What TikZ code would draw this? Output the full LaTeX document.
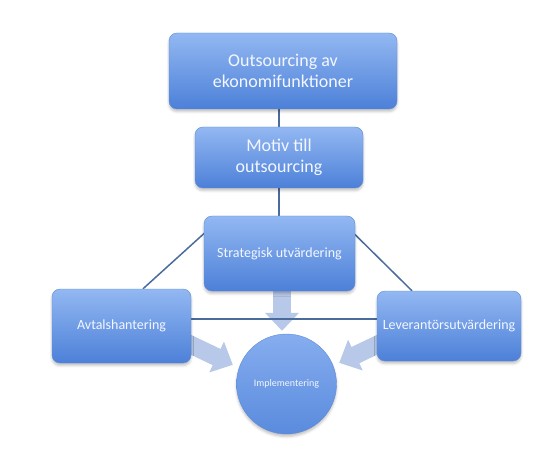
\documentclass[tikz,border=0pt]{standalone}
\usepackage{fontspec}
\setmainfont{Carlito}
\usetikzlibrary{shadows.blur,arrows.meta,backgrounds}
\definecolor{boxtop}{HTML}{93B8F2}
\definecolor{boxbot}{HTML}{4C80D8}
\definecolor{boxedge}{HTML}{5C8CD8}
\definecolor{circtop}{HTML}{86ADEF}
\definecolor{circbot}{HTML}{5A8BDD}
\definecolor{boxtext}{HTML}{F4F7FF}
\definecolor{connc}{HTML}{4A6C9C}
\definecolor{arrc}{HTML}{B7C8E8}
\begin{document}
\begin{tikzpicture}[x=1pt,y=-1pt,
  boxnode/.style={rectangle, rounded corners=8pt, top color=boxtop, bottom color=boxbot,
    draw=boxedge, line width=0.4pt, text=boxtext, align=center, inner sep=0pt,
    blur shadow={shadow xshift=0pt, shadow yshift=-2.5pt, shadow blur radius=2.5pt, shadow opacity=25}},
  circnode/.style={circle, top color=circtop, bottom color=circbot, draw=boxedge,
    line width=0.4pt, text=boxtext, inner sep=0pt, minimum size=100pt,
    blur shadow={shadow xshift=0pt, shadow yshift=-2.5pt, shadow blur radius=2.5pt, shadow opacity=25}},
  conn/.style={draw=connc, line width=1.5pt},
  blockarr/.style={draw=arrc, line width=18pt, -{Triangle[length=18pt,width=33pt]}}
]
\useasboundingbox (0,0) rectangle (546,457);
\node[boxnode, minimum width=228pt, minimum height=76pt, font=\fontsize{18}{21}\selectfont] (top) at (283,71) {Outsourcing av\\ekonomifunktioner};
\node[boxnode, minimum width=168pt, minimum height=61pt, font=\fontsize{18}{21}\selectfont] (motiv) at (279,157.5) {Motiv till\\outsourcing};
\node[boxnode, minimum width=151pt, minimum height=75pt, font=\fontsize{14}{16}\selectfont] (strat) at (279.5,253.5) {Strategisk utvärdering};
\node[boxnode, minimum width=139pt, minimum height=74pt, font=\fontsize{14}{16}\selectfont] (avtal) at (121.5,326) {Avtalshantering};
\node[boxnode, minimum width=144pt, minimum height=70pt, font=\fontsize{14}{16}\selectfont] (lev) at (449,326) {Leverantörsutvärdering};
\node[circnode, font=\fontsize{10}{12}\selectfont] (impl) at (286.5,384) {Implementering};
\begin{scope}[on background layer]
  \draw[blockarr] ([xshift=2.5pt]strat.south) -- ([xshift=-4.5pt,yshift=3pt]impl.north);
  \draw[blockarr] ([xshift=-4pt,yshift=-17pt]avtal.east) -- ([shift={(-6.5pt,2pt)}]impl.160);
  \draw[blockarr] ([xshift=4pt,yshift=-17pt]lev.west) -- ([shift={(5.5pt,4pt)}]impl.20);
  \draw[conn] (motiv.north |- top.south) -- (motiv.north);
  \draw[conn] (motiv.south) -- (motiv.south |- strat.north);
  \draw[conn] ([shift={(1pt,-17pt)}]strat.north west) -- ([xshift=21.5pt]avtal.north);
  \draw[conn] ([shift={(-3pt,-16pt)}]strat.north east) -- ([xshift=-37pt]lev.north);
  \draw[conn] ([shift={(-5pt,7pt)}]avtal.east) -- ([yshift=7pt]lev.west);
\end{scope}
\end{tikzpicture}
\end{document}
